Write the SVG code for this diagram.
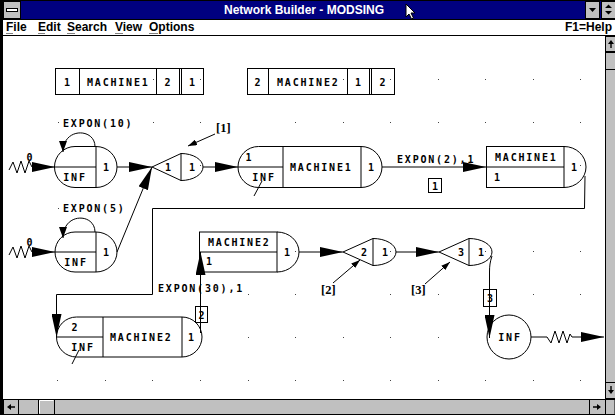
<svg xmlns="http://www.w3.org/2000/svg" width="615" height="415" viewBox="0 0 615 415">
<style>
.t{font-family:"DejaVu Sans Mono",monospace;font-weight:bold;font-size:10px;fill:#000}
.ls{letter-spacing:1.8px}
.c{text-anchor:middle}
.s{font-family:"Liberation Serif",serif;font-weight:bold;font-size:12.5px;fill:#000}
.ui{font-family:"Liberation Sans",Arial,sans-serif;font-weight:bold;font-size:12px}
.n{fill:none;stroke:#000;stroke-width:1}
.k{fill:none;stroke:#000;stroke-width:1}
.ar{marker-end:url(#ah)}
.sm{marker-end:url(#as)}
.lp{marker-end:url(#al)}
.bt{fill:#c0c0c0;stroke:#000;stroke-width:1}
.dot{fill:#444}
</style>
<defs>
<marker id="ah" viewBox="0 0 23 10" refX="23" refY="5" markerWidth="23" markerHeight="10" markerUnits="userSpaceOnUse" orient="auto"><path d="M0,0 L23,5 L0,10 Z" fill="#000"/></marker>
<marker id="al" viewBox="0 0 11 8" refX="11" refY="4" markerWidth="11" markerHeight="8" markerUnits="userSpaceOnUse" orient="auto"><path d="M0,0 L11,4 L0,8 Z" fill="#000"/></marker>
<marker id="as" viewBox="0 0 9 6" refX="9" refY="3" markerWidth="9" markerHeight="6" markerUnits="userSpaceOnUse" orient="auto"><path d="M0,0 L9,3 L0,6 Z" fill="#000"/></marker>
</defs>

<!-- window chrome -->
<g id="window">
<rect x="0" y="0" width="615" height="415" fill="#fff"/>
<rect x="0" y="0" width="615" height="19" fill="#000080"/>
<rect x="0" y="0" width="3" height="415" fill="#000"/>
<line x1="0" y1="0.5" x2="615" y2="0.5" stroke="#000"/>
<rect x="3.5" y="1.5" width="17" height="17" class="bt"/>
<rect x="6.5" y="8.5" width="11" height="3" fill="#fff" stroke="#000"/>
<text x="304" y="14" class="ui" fill="#fff" text-anchor="middle" font-size="12.5">Network Builder - MODSING</text>
<rect x="585.5" y="1.5" width="14" height="17" class="bt"/>
<path d="M589,8 H596 L592.5,12 Z" fill="#000"/>
<rect x="601.5" y="1.5" width="14" height="17" class="bt"/>
<path d="M605,8 H612 L608.5,4.5 Z M605,11 H612 L608.5,14.5 Z" fill="#000"/>
<path d="M406,4 L406,17 L409,14 L411.5,19 L413.5,18 L411,13 L415,13 Z" fill="#fff" stroke="#000" stroke-width="1"/>
<line x1="3" y1="19.5" x2="615" y2="19.5" stroke="#000"/>
<text x="6" y="31" class="ui">File</text>
<text x="38" y="31" class="ui">Edit</text>
<text x="67" y="31" class="ui">Search</text>
<text x="115" y="31" class="ui">View</text>
<text x="149" y="31" class="ui">Options</text>
<text x="612" y="31" class="ui" text-anchor="end">F1=Help</text>
<g stroke="#808080" stroke-width="1">
<line x1="6" y1="33.5" x2="13" y2="33.5"/>
<line x1="38" y1="33.5" x2="45" y2="33.5"/>
<line x1="67" y1="33.5" x2="75" y2="33.5"/>
<line x1="115" y1="33.5" x2="123" y2="33.5"/>
<line x1="149" y1="33.5" x2="158" y2="33.5"/>
</g>
<line x1="3" y1="35.5" x2="615" y2="35.5" stroke="#000"/>
<!-- vertical scrollbar -->
<rect x="605.5" y="36" width="10" height="363" fill="#c0c0c0" stroke="#000"/>
<rect x="605.5" y="36.5" width="10" height="15" class="bt"/>
<path d="M608,44 L611,40 L614,44 Z M610.3,44 H611.7 V48 H610.3 Z" fill="#000"/>
<rect x="605.5" y="52.5" width="10" height="17" fill="#c0c0c0" stroke="#000"/>
<rect x="605.5" y="382.5" width="10" height="16" class="bt"/>
<path d="M608,390 L611,394 L614,390 Z M610.3,386 H611.7 V390 H610.3 Z" fill="#000"/>
<!-- horizontal scrollbar -->
<rect x="3" y="399.5" width="612" height="15" fill="#c0c0c0" stroke="#000"/>
<rect x="3.5" y="399.5" width="15" height="15" class="bt"/>
<path d="M7,407 L11,404 L11,410 Z M11,406.3 H15 V407.7 H11 Z" fill="#000"/>
<rect x="38.5" y="399.5" width="16" height="15" fill="#c0c0c0" stroke="#000"/>
<line x1="39.5" y1="400.5" x2="53.5" y2="400.5" stroke="#fff"/>
<line x1="39.5" y1="400.5" x2="39.5" y2="413.5" stroke="#fff"/>
<rect x="589.5" y="399.5" width="16" height="15" class="bt"/>
<path d="M601,407 L597,404 L597,410 Z M593,406.3 H597 V407.7 H593 Z" fill="#000"/>
</g>

<!-- grid dots -->
<g id="grid" class="dot">
<rect x="153" y="79" width="1" height="1"/><rect x="200" y="79" width="1" height="1"/><rect x="343" y="79" width="1" height="1"/><rect x="390" y="79" width="1" height="1"/><rect x="438" y="79" width="1" height="1"/><rect x="485" y="79" width="1" height="1"/><rect x="533" y="79" width="1" height="1"/><rect x="580" y="79" width="1" height="1"/>
<rect x="58" y="122" width="1" height="1"/><rect x="153" y="122" width="1" height="1"/><rect x="200" y="122" width="1" height="1"/><rect x="295" y="122" width="1" height="1"/><rect x="343" y="122" width="1" height="1"/><rect x="390" y="122" width="1" height="1"/><rect x="438" y="122" width="1" height="1"/><rect x="485" y="122" width="1" height="1"/><rect x="533" y="122" width="1" height="1"/><rect x="580" y="122" width="1" height="1"/>
<rect x="200" y="165" width="1" height="1"/><rect x="580" y="165" width="1" height="1"/>
<rect x="58" y="208" width="1" height="1"/>
<rect x="295" y="251" width="1" height="1"/><rect x="390" y="251" width="1" height="1"/><rect x="485" y="251" width="1" height="1"/><rect x="533" y="251" width="1" height="1"/><rect x="580" y="251" width="1" height="1"/>
<rect x="248" y="294" width="1" height="1"/><rect x="295" y="294" width="1" height="1"/><rect x="390" y="294" width="1" height="1"/><rect x="438" y="294" width="1" height="1"/><rect x="533" y="294" width="1" height="1"/><rect x="580" y="294" width="1" height="1"/>
<rect x="248" y="337" width="1" height="1"/><rect x="295" y="337" width="1" height="1"/><rect x="343" y="337" width="1" height="1"/><rect x="390" y="337" width="1" height="1"/><rect x="438" y="337" width="1" height="1"/>
<rect x="57" y="380" width="1" height="1"/><rect x="105" y="380" width="1" height="1"/><rect x="152" y="380" width="1" height="1"/><rect x="200" y="380" width="1" height="1"/><rect x="248" y="380" width="1" height="1"/><rect x="295" y="380" width="1" height="1"/><rect x="343" y="380" width="1" height="1"/><rect x="390" y="380" width="1" height="1"/><rect x="438" y="380" width="1" height="1"/><rect x="485" y="380" width="1" height="1"/><rect x="533" y="380" width="1" height="1"/><rect x="580" y="380" width="1" height="1"/>
</g>

<!-- legend boxes -->
<g id="legend1">
<rect x="55.5" y="68.5" width="148" height="26" class="n"/>
<path d="M79.5,68.5 V94.5 M156.5,68.5 V94.5 M179.5,68.5 V94.5 M181.5,68.5 V94.5" class="k"/>
<text x="67" y="85.5" class="t c">1</text>
<text x="87" y="85.5" class="t ls">MACHINE1</text>
<text x="167.5" y="85.5" class="t c">2</text>
<text x="192" y="85.5" class="t c">1</text>
</g>
<g id="legend2">
<rect x="247.5" y="68.5" width="147" height="26" class="n"/>
<path d="M268.5,68.5 V94.5 M347.5,68.5 V94.5 M369.5,68.5 V94.5 M371.5,68.5 V94.5" class="k"/>
<text x="257.5" y="85.5" class="t c">2</text>
<text x="277" y="85.5" class="t ls">MACHINE2</text>
<text x="358" y="85.5" class="t c">1</text>
<text x="382.5" y="85.5" class="t c">2</text>
</g>

<!-- nodes -->
<g id="srcA">
<path d="M75,146.5 H96 A21,20.5 0 0 1 96,187.5 H75 A20.5,20.5 0 0 1 75,146.5 Z" class="n"/>
<path d="M96,146.5 V187.5 M54.5,167 H96" class="k"/>
<text x="75" y="181" class="t c ls">INF</text>
<text x="106" y="171" class="t c">1</text>
</g>
<g id="srcB">
<path d="M75,232 H96 A21,20 0 0 1 96,272 H75 A20,20 0 0 1 75,232 Z" class="n"/>
<path d="M96,232 V272 M55,252 H96" class="k"/>
<text x="76" y="266" class="t c ls">INF</text>
<text x="106" y="256" class="t c">1</text>
</g>
<g id="q1">
<path d="M152,167 L181,153.5 A22,13.5 0 0 1 181,180.5 Z M181,153.5 V180.5" class="n"/>
<text x="168" y="171" class="t c">1</text>
<text x="192" y="171" class="t c">1</text>
</g>
<g id="m1a">
<path d="M258.5,146.5 H361 A21,20.5 0 0 1 361,187.5 H258.5 A20.5,20.5 0 0 1 258.5,146.5 Z" class="n"/>
<path d="M283,146.5 V187.5 M238,167 H283 M361,146.5 V187.5 M262,181 L254,196" class="k"/>
<text x="248.5" y="160.5" class="t c">1</text>
<text x="264" y="181" class="t c ls">INF</text>
<text x="290" y="171" class="t ls">MACHINE1</text>
<text x="371" y="171" class="t c">1</text>
</g>
<g id="m1b">
<rect x="486.5" y="146.5" width="77.5" height="41" class="n"/>
<path d="M486.5,167 H564 M564,146.5 A22,20.5 0 0 1 564,187.5" class="k"/>
<text x="495" y="161" class="t ls">MACHINE1</text>
<text x="497" y="181" class="t c">1</text>
<text x="574" y="171" class="t c">1</text>
</g>
<g id="m2a">
<rect x="199.5" y="232" width="77.5" height="40" class="n"/>
<path d="M199.5,252 H277 M277,232 A22,20 0 0 1 277,272" class="k"/>
<text x="208" y="246" class="t ls">MACHINE2</text>
<text x="209" y="265" class="t c">1</text>
<text x="287" y="256" class="t c">1</text>
</g>
<g id="q2">
<path d="M343,252 L373,238.5 A23,13.5 0 0 1 373,265.5 Z M373,238.5 V265.5" class="n"/>
<text x="364" y="256" class="t c">2</text>
<text x="385" y="256" class="t c">1</text>
</g>
<g id="q3">
<path d="M439,252 L469,238.5 A23,13.5 0 0 1 469,265.5 Z M469,238.5 V265.5" class="n"/>
<text x="461" y="256" class="t c">3</text>
<text x="481" y="256" class="t c">1</text>
</g>
<g id="m2b">
<path d="M76.5,317 H182 A20,20 0 0 1 182,357 H76.5 A20,20 0 0 1 76.5,317 Z" class="n"/>
<path d="M103,317 V357 M56.5,337 H103 M182,317 V357 M79,350 L72,364" class="k"/>
<text x="74.5" y="331" class="t c">2</text>
<text x="83" y="351" class="t c ls">INF</text>
<text x="110" y="341" class="t ls">MACHINE2</text>
<text x="191" y="341" class="t c">1</text>
</g>
<g id="sink">
<circle cx="509" cy="337" r="22" class="n"/>
<text x="510" y="341" class="t c ls">INF</text>
</g>

<!-- connectors -->
<g id="connectors">
<path d="M9,170 L13,162 L17,173 L21,161 L25,173 L29,161 L32,167 L55,167" class="k ar"/>
<text x="29.5" y="161" class="t c" font-size="8">0</text>
<path d="M9,255 L13,247 L17,258 L21,246 L25,258 L29,246 L32,252 L55,252" class="k ar"/>
<text x="29.5" y="246" class="t c" font-size="8">0</text>
<path d="M95,146.5 C95,128 63,127 63,152" class="k lp"/>
<text x="63" y="127" class="t ls">EXPON(10)</text>
<path d="M95,232 C95,213 63,212 63,238" class="k lp"/>
<text x="63" y="211.5" class="t ls">EXPON(5)</text>
<path d="M117,167 L152,167" class="k ar"/>
<path d="M117,252 L152,167" class="k ar"/>
<path d="M215,134 L188,146" class="k sm"/>
<text x="216" y="132" class="s">[1]</text>
<path d="M203,167 L238,167" class="k ar"/>
<path d="M382,167 L486,167" class="k ar"/>
<text x="397" y="163" class="t ls">EXPON(2),1</text>
<rect x="428.5" y="178.5" width="13" height="14" class="n"/>
<text x="435" y="189.5" class="t c">1</text>
<path d="M585,176 L584.5,208.5 L152.5,208.5 L152.5,294.5 L56.5,294.5 L56.5,337" class="k ar"/>
<path d="M200.5,333 L200.5,252" class="k ar"/>
<rect x="195.5" y="306.5" width="12" height="16" class="n"/>
<text x="201.5" y="318.5" class="t c">2</text>
<text x="158" y="291.5" class="t ls">EXPON(30),1</text>
<path d="M299,252 L343,252" class="k ar"/>
<path d="M396,252 L439,252" class="k ar"/>
<path d="M333,283 L360,260" class="k sm"/>
<text x="321" y="294" class="s">[2]</text>
<path d="M425,284 L450,262" class="k sm"/>
<text x="411" y="294" class="s">[3]</text>
<path d="M492,256 C490,262 489.5,266 489.5,272 L489.5,338" class="k ar"/>
<rect x="483.5" y="289.5" width="13" height="17" class="n"/>
<text x="490" y="302" class="t c">3</text>
<path d="M531,337 L547,337 L551,343 L555,331 L559,343 L563,331 L567,343 L570,334 L572,337 L604,337" class="k ar"/>
</g>
</svg>
